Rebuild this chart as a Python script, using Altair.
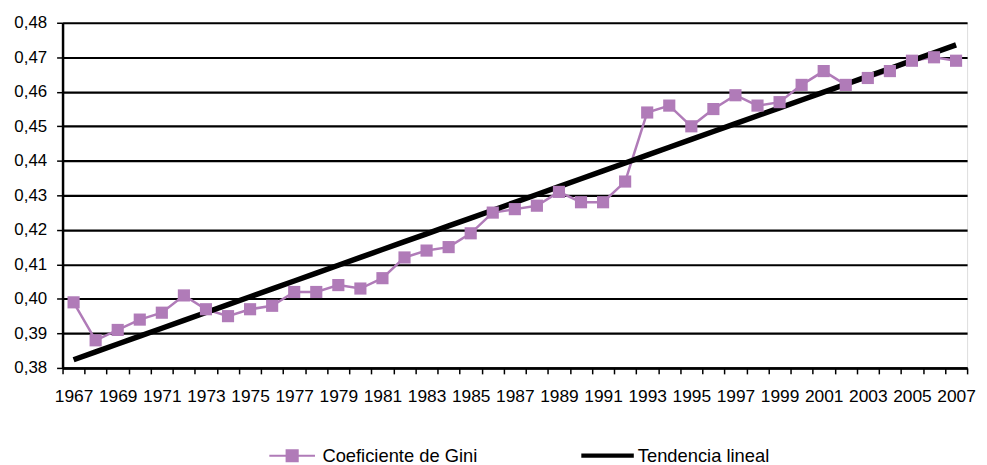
import altair as alt
import numpy as np
import pandas as pd

years = list(range(1967, 2008))
gini = [0.399, 0.388, 0.391, 0.394, 0.396, 0.401, 0.397, 0.395, 0.397, 0.398,
        0.402, 0.402, 0.404, 0.403, 0.406, 0.412, 0.414, 0.415, 0.419, 0.425,
        0.426, 0.427, 0.431, 0.428, 0.428, 0.434, 0.454, 0.456, 0.450, 0.455,
        0.459, 0.456, 0.457, 0.462, 0.466, 0.462, 0.464, 0.466, 0.469, 0.470,
        0.469]
series_names = ["Coeficiente de Gini", "Tendencia lineal"]
y_ticks = [0.38, 0.39, 0.40, 0.41, 0.42, 0.43, 0.44, 0.45, 0.46, 0.47, 0.48]
colors = ["#b07bb8", "#000000"]

# linear trend (least squares) computed from the series
slope, intercept = np.polyfit(years, gini, 1)
trend = [intercept + slope * y for y in years]

df = pd.DataFrame({
    "year": [str(y) for y in years] * 2,
    "value": gini + trend,
    "series": [series_names[0]] * len(years) + [series_names[1]] * len(years),
})

FONT = "Liberation Sans, Arial"

x_enc = alt.X("year:O", title=None,
              axis=alt.Axis(labelAngle=0, tickBand="extent",
                            labelExpr="(toNumber(datum.value) - 1967) % 2 == 0 ? datum.value : ''",
                            labelFontSize=17.5, labelFont=FONT, labelColor="#000",
                            labelPadding=14, tickSize=6, tickColor="#000", tickWidth=1.5,
                            domainColor="#000", domainWidth=2.5, grid=False,
                            labelOverlap=False),
              scale=alt.Scale(paddingInner=0, paddingOuter=0))
y_enc = alt.Y("value:Q", title=None,
              scale=alt.Scale(domain=[0.38, 0.48], nice=False, zero=False),
              axis=alt.Axis(values=y_ticks,
                            labelExpr="replace(format(datum.value, '.2f'), '.', ',')",
                            labelFontSize=17, labelFont=FONT, labelColor="#000",
                            labelPadding=10, tickSize=6, tickColor="#000", tickWidth=1.5,
                            domainColor="#000", domainWidth=2.5,
                            grid=True, gridColor="#000", gridWidth=2.2))

color_scale = alt.Scale(domain=series_names, range=colors)

lines = alt.Chart(df).mark_line().encode(
    x=x_enc, y=y_enc,
    color=alt.Color("series:N", scale=color_scale, legend=None),
    strokeWidth=alt.StrokeWidth("series:N",
                                scale=alt.Scale(domain=series_names, range=[2.5, 5.5]),
                                legend=None),
)

points = alt.Chart(df).transform_filter(
    alt.datum.series == series_names[0]
).mark_square(size=150, opacity=1, color=colors[0]).encode(
    x=x_enc, y=y_enc,
)

gini_path = "M-0.87,-0.04H0.87V0.04H-0.87Z M-0.25,-0.25H0.25V0.25H-0.25Z"
trend_path = "M-1,-0.08H1V0.08H-1Z"

# legend-only layer: no rows, legend entries come from the fixed scale domains
legend_layer = alt.Chart(df).transform_filter(
    alt.datum.series == "__none__"
).mark_point(filled=True, opacity=1).encode(
    x=x_enc, y=y_enc,
    color=alt.Color("series:N", scale=color_scale,
                    legend=alt.Legend(title=None, orient="none", direction="horizontal",
                                      legendX=205, legendY=410, padding=0,
                                      symbolSize=2800, symbolStrokeWidth=0,
                                      labelFontSize=18.5, labelFont=FONT, labelColor="#000",
                                      labelOffset=4, labelLimit=400, columnPadding=104,
                                      symbolOpacity=1)),
    shape=alt.Shape("series:N",
                    scale=alt.Scale(domain=series_names, range=[gini_path, trend_path])),
)

chart = alt.layer(lines, points, legend_layer).resolve_legend(
    color="independent", shape="independent"
).properties(
    width=912, height=348,
    autosize=alt.AutoSizeParams(type="none"),
    padding={"left": 55, "top": 13, "right": 12, "bottom": 96},
).configure_view(stroke=None).configure(background="white")

chart.save("out.html", embed_options={"renderer": "svg", "actions": False})
